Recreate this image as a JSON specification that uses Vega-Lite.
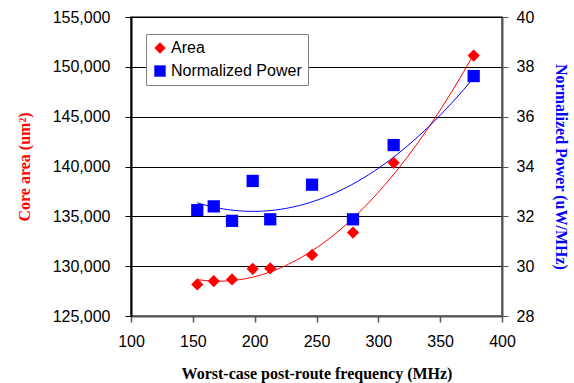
{
  "$schema": "https://vega.github.io/schema/vega-lite/v6.json",
  "width": 371,
  "height": 299,
  "autosize": {"type": "none"},
  "padding": {"left": 131, "top": 17, "right": 72, "bottom": 67},
  "background": "white",
  "config": {
    "view": {"stroke": "#808080", "strokeWidth": 2},
    "axis": {"labelFont": "Liberation Sans", "labelFontSize": 16, "labelColor": "black", "labelFlush": false, "labelOverlap": false, "titleFont": "Liberation Serif", "titleFontWeight": "bold", "titleFontSize": 16}
  },
  "data": {
    "values": [
      {"freq": 153.6, "series": "Area", "value": 128170},
      {"freq": 166.9, "series": "Area", "value": 128500},
      {"freq": 181.7, "series": "Area", "value": 128670},
      {"freq": 198.4, "series": "Area", "value": 129730},
      {"freq": 212.6, "series": "Area", "value": 129770},
      {"freq": 246.4, "series": "Area", "value": 131130},
      {"freq": 279.5, "series": "Area", "value": 133370},
      {"freq": 312.4, "series": "Area", "value": 140370},
      {"freq": 377.1, "series": "Area", "value": 151130},
      {"freq": 153.6, "series": "Normalized Power", "value": 32.25},
      {"freq": 166.9, "series": "Normalized Power", "value": 32.4},
      {"freq": 181.7, "series": "Normalized Power", "value": 31.82},
      {"freq": 198.4, "series": "Normalized Power", "value": 33.42},
      {"freq": 212.6, "series": "Normalized Power", "value": 31.88},
      {"freq": 246.4, "series": "Normalized Power", "value": 33.27},
      {"freq": 279.5, "series": "Normalized Power", "value": 31.88},
      {"freq": 312.4, "series": "Normalized Power", "value": 34.86},
      {"freq": 377.1, "series": "Normalized Power", "value": 37.63}
    ]
  },
  "encoding": {
    "x": {
      "field": "freq", "type": "quantitative",
      "scale": {"domain": [100, 400], "nice": false, "zero": false},
      "axis": {"values": [100, 150, 200, 250, 300, 350, 400], "format": "d", "grid": false, "domainColor": "#555555", "domainWidth": 2, "tickColor": "#555555", "tickWidth": 1.5, "tickSize": 6, "labelPadding": 11, "title": "Worst-case post-route frequency  (MHz)", "titleColor": "black", "titlePadding": 16}
    }
  },
  "layer": [
    {
      "transform": [{"filter": "datum.series === 'Area'"}, {"regression": "value", "on": "freq", "method": "poly", "order": 2}],
      "mark": {"type": "line", "color": "red", "strokeWidth": 1},
      "encoding": {
        "y": {"field": "value", "type": "quantitative", "scale": {"domain": [125000, 155000], "nice": false, "zero": false}, "axis": null}
      }
    },
    {
      "transform": [{"filter": "datum.series === 'Normalized Power'"}, {"regression": "value", "on": "freq", "method": "poly", "order": 2}],
      "mark": {"type": "line", "color": "blue", "strokeWidth": 1},
      "encoding": {
        "y": {"field": "value", "type": "quantitative", "scale": {"domain": [28, 40], "nice": false, "zero": false}, "axis": null}
      }
    },
    {
      "transform": [{"filter": "datum.series === 'Area'"}],
      "mark": {"type": "point", "filled": true, "opacity": 1},
      "encoding": {
        "y": {"field": "value", "type": "quantitative", "scale": {"domain": [125000, 155000], "nice": false, "zero": false},
          "axis": {"orient": "left", "values": [125000, 130000, 135000, 140000, 145000, 150000, 155000], "format": ",.0f", "grid": true, "gridColor": "black", "gridWidth": 1, "domainColor": "black", "domainWidth": 2, "tickColor": "black", "tickSize": 6, "labelPadding": 15, "title": "Core area (um²)", "titleColor": "red", "titlePadding": 20}},
        "color": {"field": "series", "type": "nominal", "scale": {"domain": ["Area", "Normalized Power"], "range": ["#ff0000", "#0000ff"]},
          "legend": {"title": null, "orient": "none", "legendX": 15, "legendY": 17, "fillColor": "white", "strokeColor": "#808080", "padding": 6, "labelFont": "Liberation Sans", "labelFontSize": 16, "labelColor": "black", "symbolSize": 130, "rowPadding": 7, "labelOffset": 3, "symbolStrokeWidth": 0}},
        "shape": {"field": "series", "type": "nominal", "scale": {"domain": ["Area", "Normalized Power"], "range": ["diamond", "square"]}},
        "size": {"value": 150}
      }
    },
    {
      "transform": [{"filter": "datum.series === 'Normalized Power'"}],
      "mark": {"type": "point", "filled": true, "opacity": 1},
      "encoding": {
        "y": {"field": "value", "type": "quantitative", "scale": {"domain": [28, 40], "nice": false, "zero": false},
          "axis": {"orient": "right", "values": [28, 30, 32, 34, 36, 38, 40], "format": "d", "grid": false, "domainColor": "#555555", "domainWidth": 2, "tickColor": "#555555", "tickSize": 6, "labelPadding": 8, "title": "Normalized Power (uW/MHz)", "titleColor": "blue", "titlePadding": 19}},
        "color": {"field": "series", "type": "nominal"},
        "shape": {"field": "series", "type": "nominal"},
        "size": {"value": 150}
      }
    }
  ],
  "resolve": {"scale": {"y": "independent"}}
}
